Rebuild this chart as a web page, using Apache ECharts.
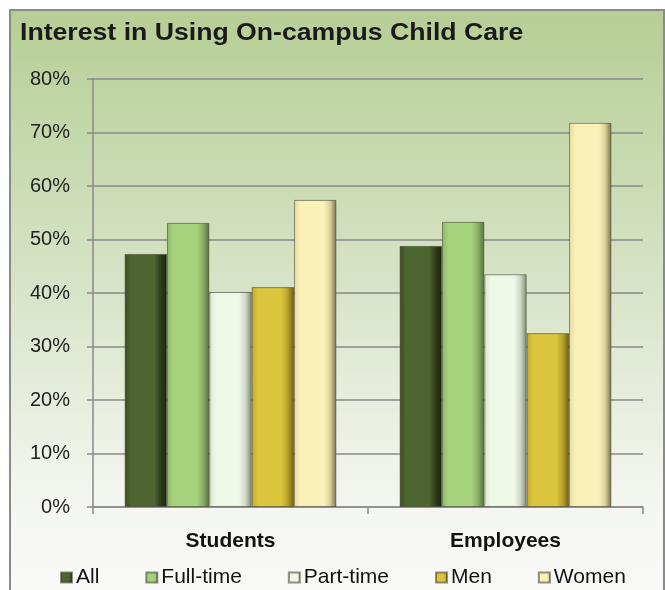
<!DOCTYPE html>
<html>
<head>
<meta charset="utf-8">
<script src="https://cdn.jsdelivr.net/npm/echarts@6/dist/echarts.min.js"></script>
<style>html,body{margin:0;padding:0;background:#fff}#c{width:665px;height:590px}</style>
</head>
<body>
<div id="c"></div>
<script>
var titleText = 'Interest in Using On-campus Child Care';
var categories = ['Students', 'Employees'];
var seriesNames = ['All', 'Full-time', 'Part-time', 'Men', 'Women'];
var allVals = [47.3, 48.8];
var fullTimeVals = [53.1, 53.3];
var partTimeVals = [40.2, 43.5];
var menVals = [41.1, 32.5];
var womenVals = [57.4, 71.8];
var yTicks = [0, 10, 20, 30, 40, 50, 60, 70, 80];

var seriesData = [allVals, fullTimeVals, partTimeVals, menVals, womenVals];
var palettes = [
  ['#3b4e22', '#4d6530', '#2e3e1a', '#1b240f'],
  ['#8cb865', '#a7d27d', '#8ab068', '#55703a'],
  ['#d9e8cc', '#eff7e7', '#cfdac5', '#80897a'],
  ['#c2ab28', '#dac53d', '#b9a22a', '#6f5e10'],
  ['#e6da9e', '#faf0b8', '#ddd29a', '#776f50']
];
function grad(p){
  return new echarts.graphic.LinearGradient(0,0,1,0,[
    {offset:0,color:p[0]},{offset:0.15,color:p[1]},{offset:0.7,color:p[1]},{offset:0.85,color:p[2]},{offset:1,color:p[3]}
  ]);
}
var series = seriesNames.map(function(n,i){
  return {
    name:n, type:'bar', data:seriesData[i],
    barGap:'0%', barCategoryGap:'23%',
    itemStyle:{color:grad(palettes[i]), borderColor:'rgba(60,60,40,0.55)', borderWidth:1},
    emphasis:{disabled:true}
  };
});
var FONT = 'Liberation Sans, Arial, sans-serif';

var chart = echarts.init(document.getElementById('c'), null, {renderer:'canvas'});
chart.setOption({
  backgroundColor:'#ffffff',
  animation:false,
  graphic:[{
    type:'rect', z:-10, silent:true,
    shape:{x:10,y:10,width:654,height:600},
    style:{
      fill:new echarts.graphic.LinearGradient(0,0,0,1,[
        {offset:0,color:'#b6ce95'},{offset:0.45,color:'#d6e3c6'},{offset:0.8,color:'#f3f5ef'},{offset:1,color:'#fafaf9'}
      ]),
      stroke:'#8a8a8a', lineWidth:2
    }
  },{
    type:'text', silent:true, x:20, y:21, scaleX:1.11, scaleY:1,
    style:{text:titleText, font:'bold 24px ' + FONT, fill:'#1a1a1a', textVerticalAlign:'top', verticalAlign:'top'}
  }],
  legend:{
    data:seriesNames, left:55, top:562, icon:'rect', itemWidth:11, itemHeight:10, itemGap:46,
    textStyle:{fontFamily:FONT, fontSize:21, color:'#111', padding:[0,0,0,-1]}
  },
  grid:{left:93, right:22, top:79, bottom:83},
  xAxis:{
    type:'category', data:categories,
    axisLine:{lineStyle:{color:'#8a8a8a', width:1.5}},
    axisTick:{show:true, length:7, lineStyle:{color:'#8a8a8a', width:1.5}},
    axisLabel:{margin:24, fontFamily:FONT, fontWeight:'bold', fontSize:21, color:'#111'}
  },
  yAxis:{
    type:'value', min:0, max:80, interval:10,
    axisLine:{show:true, lineStyle:{color:'#8a8a8a', width:1.5}},
    axisTick:{show:true, length:6, lineStyle:{color:'#8a8a8a', width:1.5}},
    splitLine:{lineStyle:{color:'#8a8a8a', width:1.5}},
    axisLabel:{margin:23, fontFamily:FONT, fontSize:20, color:'#222',
      formatter:function(v){return yTicks.indexOf(v)>=0 ? v+'%' : '';}}
  },
  series:series
});
</script>
</body>
</html>
